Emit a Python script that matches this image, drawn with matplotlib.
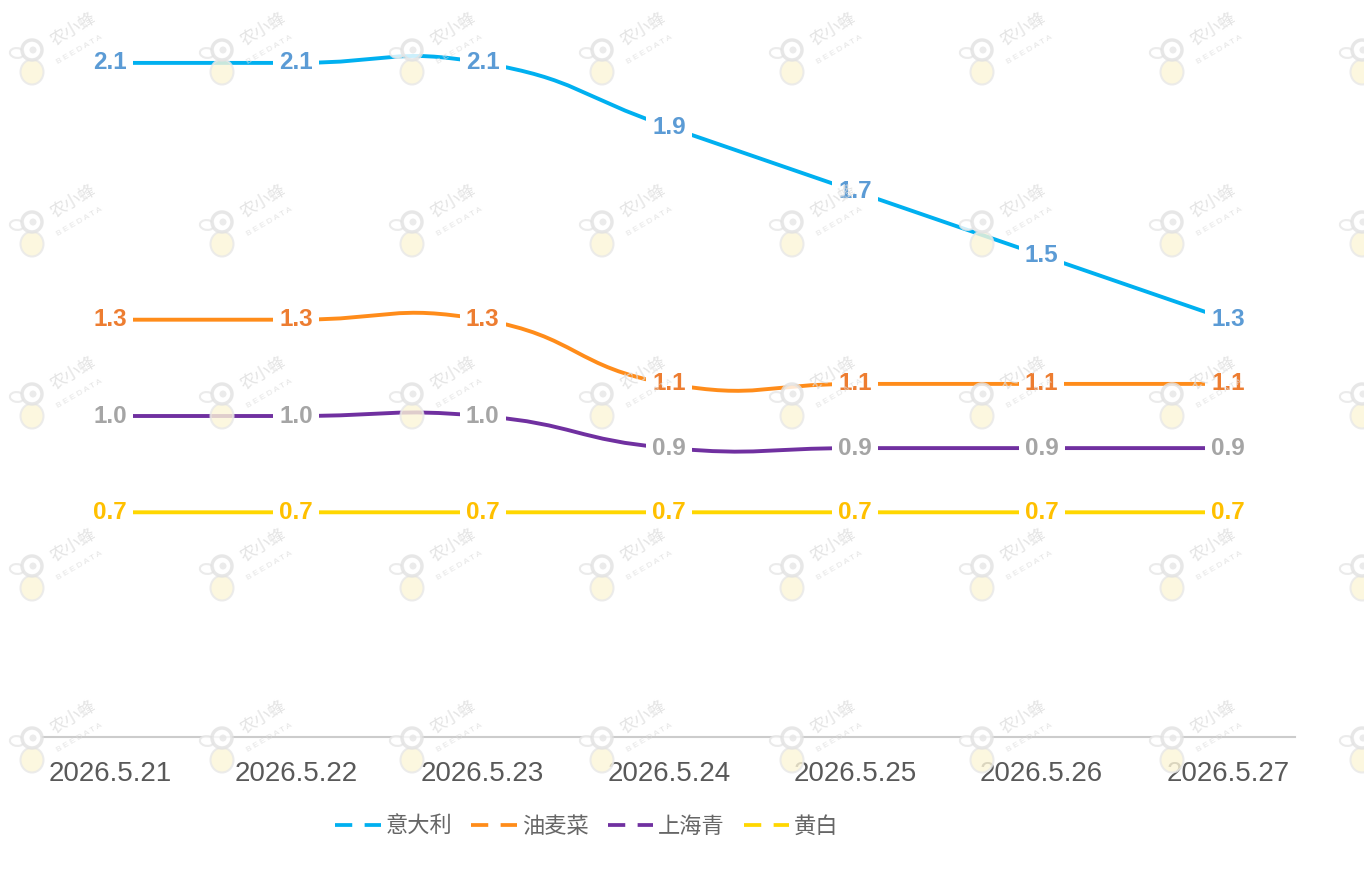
import numpy as np
import matplotlib
matplotlib.use("Agg")
import matplotlib.pyplot as plt
from matplotlib.path import Path
from matplotlib.patches import PathPatch, Ellipse
from matplotlib.lines import Line2D

plt.rcParams['font.family'] = ['Liberation Sans', 'Noto Sans CJK SC', 'DejaVu Sans']

# 数据
dates = ['2026.5.21', '2026.5.22', '2026.5.23', '2026.5.24', '2026.5.25', '2026.5.26', '2026.5.27']
names = ['意大利', '油麦菜', '上海青', '黄白']
yidali = [2.1, 2.1, 2.1, 1.9, 1.7, 1.5, 1.3]
youmaicai = [1.3, 1.3, 1.3, 1.1, 1.1, 1.1, 1.1]
shanghaiqing = [1.0, 1.0, 1.0, 0.9, 0.9, 0.9, 0.9]
huangbai = [0.7, 0.7, 0.7, 0.7, 0.7, 0.7, 0.7]
series = [yidali, youmaicai, shanghaiqing, huangbai]

line_colors = ['#00b0f0', '#ff8c1a', '#7030a0', '#ffd700']
label_colors = ['#5b9bd5', '#ed7d31', '#a5a5a5', '#ffc000']

W, H = 1364, 872
fig = plt.figure(figsize=(W / 100, H / 100), dpi=100)
ax = fig.add_axes([42 / W, (H - 737) / H, 1253 / W, 2.2 * 321 / H])
ax.set_xlim(-0.365, 6.36)
ax.set_ylim(0, 2.2)


def smooth_path(xs, ys, smooth=0.5):
    # 类似 echarts 4 的平滑曲线，在像素坐标里计算控制点
    pts = ax.transData.transform(np.column_stack([xs, ys]))
    n = len(pts)
    cps = []
    for i in range(n):
        p = pts[i]
        if i == 0 or i == n - 1:
            cps.append(p.copy())
            continue
        prev, nxt = pts[i - 1], pts[i + 1]
        v = (nxt - prev) * smooth
        d0 = np.hypot(*(p - prev))
        d1 = np.hypot(*(p - nxt))
        s = d0 + d1
        if s != 0:
            d0, d1 = d0 / s, d1 / s
        cps.append(p - v * d0)
        cps.append(p + v * d1)
    verts = [pts[0]]
    codes = [Path.MOVETO]
    for i in range(n - 1):
        verts += [cps[2 * i], cps[2 * i + 1], pts[i + 1]]
        codes += [Path.CURVE4] * 3
    verts = ax.transData.inverted().transform(np.array(verts))
    return Path(verts, codes)


x = np.arange(len(dates))
for vals, lc, tc in zip(series, line_colors, label_colors):
    path = smooth_path(x, vals)
    ax.add_patch(PathPatch(path, facecolor='none', edgecolor=lc, lw=2.8,
                           zorder=2, capstyle='round', clip_on=False))
    for xi, v in zip(x, vals):
        ax.text(xi, v, f'{v:.1f}', color=tc, fontsize=17.5, fontweight='bold',
                ha='center', va='center', zorder=4,
                bbox=dict(boxstyle='square,pad=0.25', fc='white', ec='none'))

for s in ['top', 'left', 'right']:
    ax.spines[s].set_visible(False)
ax.spines['bottom'].set_color('#cccccc')
ax.spines['bottom'].set_linewidth(1.5)
ax.set_yticks([])
ax.set_xticks(x)
ax.set_xticklabels(dates)
ax.tick_params(axis='x', length=0, labelsize=20, labelcolor='#595959', pad=17)

# 图例
handles = [Line2D([], [], color=c, lw=2.7, linestyle=(0, (4.6, 3.3)))
           for c in line_colors]
fig.legend(handles, names, loc='center', bbox_to_anchor=(587 / W, 1 - 826 / H),
           ncol=4, frameon=False, handlelength=2.05, handletextpad=0.22,
           columnspacing=0.85, prop={'family': ['Noto Sans CJK SC'], 'size': 16},
           labelcolor='#666666')

# 水印
fx = lambda px: px / W
fy = lambda py: 1 - py / H
tf = fig.transFigure
for i in range(8):
    for j in range(5):
        hx = 32 + 190 * i
        hy = 50 + 172 * j
        fig.patches.append(Ellipse((fx(hx - 15), fy(hy + 3)), 14 / W, 10 / H, angle=20,
                                   transform=tf, fc='white', ec='#e6e6e6', lw=1.5,
                                   alpha=0.8, zorder=5))
        fig.patches.append(Ellipse((fx(hx), fy(hy + 22)), 23 / W, 25 / H,
                                   transform=tf, fc='#fcf5d8', ec='#e8e8e8', lw=1.5,
                                   alpha=0.8, zorder=5))
        fig.patches.append(Ellipse((fx(hx), fy(hy)), 20 / W, 20 / H,
                                   transform=tf, fc='white', ec='#e2e2e2', lw=2.5,
                                   alpha=0.8, zorder=5))
        fig.patches.append(Ellipse((fx(hx + 1), fy(hy)), 7 / W, 7 / H,
                                   transform=tf, fc='#e6e6e6', ec='none',
                                   alpha=0.8, zorder=5))
        if hx + 70 < W:
            fig.text(fx(hx + 41), fy(hy - 20), '农小蜂', rotation=30, fontsize=12,
                     family=['Noto Sans CJK SC'], color='#dddddd', alpha=0.8,
                     ha='center', va='center', zorder=5)
            fig.text(fx(hx + 48), fy(hy), 'B E E D A T A', rotation=30,
                     fontsize=6, color='#dddddd', alpha=0.8,
                     ha='center', va='center', zorder=5)

fig.savefig('out.png', dpi=100, facecolor='white')
